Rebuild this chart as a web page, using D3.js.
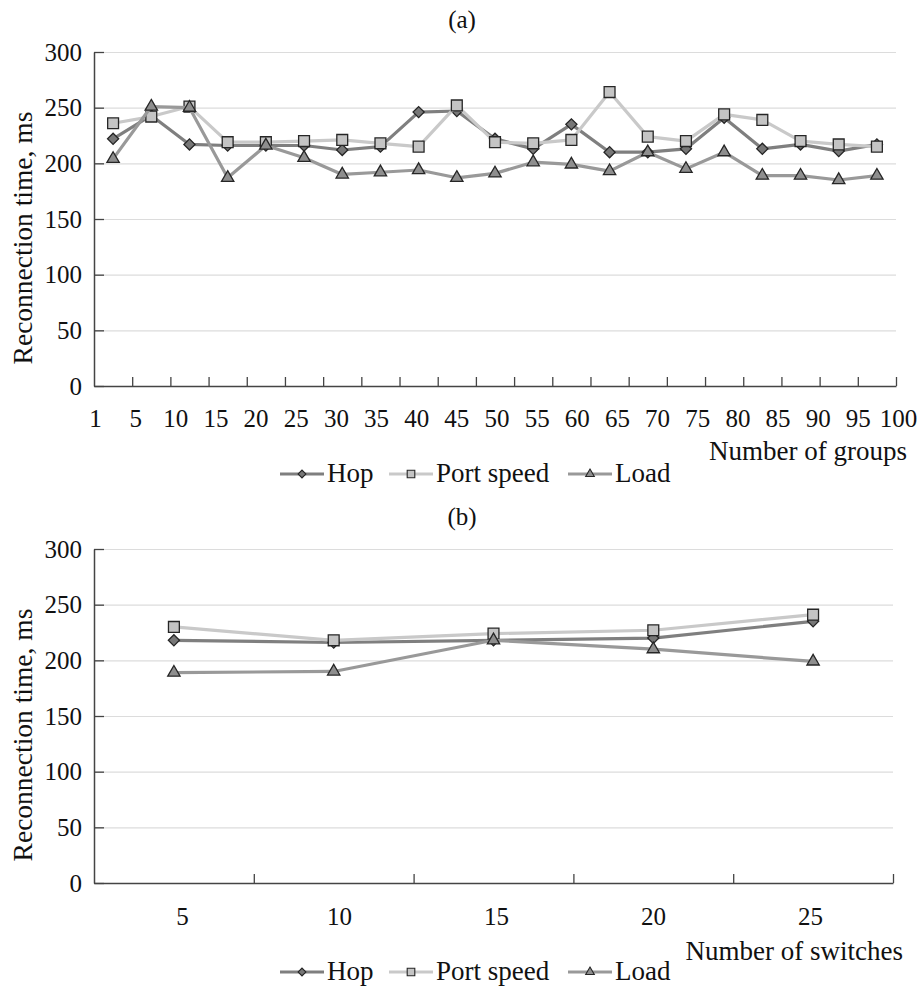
<!DOCTYPE html>
<html lang="en">
<head>
<meta charset="UTF-8">
<script src="https://d3js.org/d3.v7.min.js"></script>
</head>
<body style="margin:0">
<svg width="922" height="987" id="chart" font-family="Liberation Serif"></svg>
<script>
        // (a) number of groups
        const groupLabels = [1, 5, 10, 15, 20, 25, 30, 35, 40, 45, 50, 55, 60, 65, 70, 75, 80, 85, 90, 95, 100];
        const hopA  = [222, 243, 217, 216, 216, 216, 212, 215, 246, 247, 222, 213, 235, 210, 210, 213, 241, 213, 217, 211, 217];
        const portA = [236, 242, 251, 219, 219, 220, 221, 218, 215, 252, 219, 218, 221, 264, 224, 220, 244, 239, 220, 217, 215];
        const loadA = [204, 251, 250, 187, 216, 205, 190, 192, 194, 187, 191, 201, 199, 193, 210, 195, 210, 189, 189, 185, 189];

        // (b) number of switches
        const switchLabels = [5, 10, 15, 20, 25];
        const hopB  = [218, 216, 218, 220, 235];
        const portB = [230, 218, 224, 227, 241];
        const loadB = [189, 190, 218, 210, 199];

        const yTicks = [0, 50, 100, 150, 200, 250, 300];
        const seriesNames = ['Hop', 'Port speed', 'Load'];

        const styles = {
            'Hop':        { line: '#7f7f7f', fill: '#777777', shape: 'diamond' },
            'Port speed': { line: '#c9c9c9', fill: '#c4c4c4', shape: 'square' },
            'Load':       { line: '#999999', fill: '#8e8e8e', shape: 'triangle' }
        };

        const svg = d3.select('#chart');

        function marker(g, shape, small) {
            const k = small ? 0.7 : 1;
            if (shape === 'diamond') {
                return g.append('path').attr('d', d3.symbol(d3.symbolSquare, 62 * k * k)())
                    .attr('transform', 'rotate(45)');
            } else if (shape === 'square') {
                return g.append('path').attr('d', d3.symbol(d3.symbolSquare, 118 * k * k)());
            }
            return g.append('path').attr('d', d3.symbol(d3.symbolTriangle, 66 * k * k)());
        }

        function txt(sel, size) {
            return sel.attr('font-family', 'Liberation Serif')
                .style('font-family', '"Liberation Serif"')
                .attr('font-size', size).attr('fill', '#111');
        }

        function drawPanel(p) {
            const g = svg.append('g');

            const y = d3.scaleLinear().domain([0, 300]).range([p.bottom, p.top]);
            const x = d3.scaleBand().domain(p.labels).range([p.left, p.right]);
            const xb = d3.scaleLinear().domain([0, p.labels.length]).range([p.left, p.right]);
            const xl = d3.scalePoint().domain(p.labels).range(p.labelRange);

            // gridlines
            g.append('g')
                .attr('transform', `translate(${p.left},0)`)
                .call(d3.axisLeft(y).tickValues(yTicks.slice(1)).tickSize(-(p.right - p.left)).tickFormat(''))
                .call(a => a.select('.domain').remove())
                .call(a => a.selectAll('line').attr('stroke', '#dcdcdc').attr('stroke-width', 1.2));

            // y axis
            g.append('g')
                .attr('transform', `translate(${p.left},0)`)
                .call(d3.axisLeft(y).tickValues(yTicks).tickSizeInner(-10).tickSizeOuter(0).tickPadding(12))
                .attr('font-family', null)
                .call(a => a.select('.domain').attr('stroke', '#444').attr('stroke-width', 1.5))
                .call(a => a.selectAll('line').attr('stroke', '#444').attr('stroke-width', 1.3))
                .call(a => txt(a.selectAll('text'), 25));

            // x axis, ticks at category boundaries
            g.append('g')
                .attr('transform', `translate(0,${p.bottom})`)
                .call(d3.axisBottom(xb).tickValues(d3.range(1, p.labels.length + 1)).tickSizeInner(-9).tickSizeOuter(0).tickFormat(''))
                .call(a => a.select('.domain').attr('stroke', '#444').attr('stroke-width', 1.5))
                .call(a => a.selectAll('line').attr('stroke', '#444').attr('stroke-width', 1.3));

            // x labels
            g.append('g')
                .attr('transform', `translate(0,${p.bottom})`)
                .call(d3.axisBottom(xl).tickSize(0).tickPadding(0))
                .attr('font-family', null)
                .call(a => a.select('.domain').remove())
                .call(a => txt(a.selectAll('text'), 25).attr('y', p.labelY - p.bottom).attr('dy', 0));

            // panel title
            txt(g.append('text'), 25)
                .attr('x', 462).attr('y', p.titleY)
                .attr('text-anchor', 'middle')
                .text(p.title);

            // y title
            txt(g.append('text'), 27.5)
                .attr('transform', `translate(32,${p.yTitleY}) rotate(-90)`)
                .attr('text-anchor', 'middle')
                .text('Reconnection time, ms');

            // x title
            txt(g.append('text'), 27)
                .attr('x', p.xTitleX).attr('y', p.xTitleY)
                .attr('text-anchor', 'end')
                .text(p.xTitle);

            // series
            const cx = i => x(p.labels[i]) + x.bandwidth() / 2;
            const line = d3.line()
                .x((d, i) => cx(i))
                .y(d => y(d));

            p.series.forEach((vals, si) => {
                const st = styles[seriesNames[si]];
                g.append('path')
                    .datum(vals)
                    .attr('fill', 'none')
                    .attr('stroke', st.line)
                    .attr('stroke-width', 3.2)
                    .attr('stroke-linejoin', 'round')
                    .attr('d', line);

                vals.forEach((v, i) => {
                    const mg = g.append('g').attr('transform', `translate(${cx(i)},${y(v)})`);
                    marker(mg, st.shape, false)
                        .attr('fill', st.fill)
                        .attr('stroke', '#262626')
                        .attr('stroke-width', 1.3);
                });
            });

            // legend
            const legendX = [280, 389, 568];
            const lg = g.append('g').attr('transform', `translate(0,${p.legendY})`);
            seriesNames.forEach((name, i) => {
                const st = styles[name];
                const item = lg.append('g').attr('transform', `translate(${legendX[i]},0)`);
                item.append('line')
                    .attr('x1', 0).attr('x2', 44)
                    .attr('y1', -8).attr('y2', -8)
                    .attr('stroke', st.line)
                    .attr('stroke-width', 3.2);
                const mg = item.append('g').attr('transform', 'translate(22,-8)');
                marker(mg, st.shape, true)
                    .attr('fill', st.fill)
                    .attr('stroke', '#262626')
                    .attr('stroke-width', 1.1);
                txt(item.append('text'), 27)
                    .attr('x', 47).attr('y', 0)
                    .text(name);
            });
        }

        drawPanel({
            title: '(a)', titleY: 28,
            top: 52, bottom: 386, left: 94, right: 896,
            labels: groupLabels, labelRange: [95, 898], labelY: 427,
            xTitle: 'Number of groups', xTitleX: 907, xTitleY: 460,
            yTitleY: 238,
            legendY: 482,
            series: [hopA, portA, loadA]
        });

        drawPanel({
            title: '(b)', titleY: 525,
            top: 549, bottom: 883, left: 94, right: 893,
            labels: switchLabels, labelRange: [182, 810], labelY: 925,
            xTitle: 'Number of switches', xTitleX: 903, xTitleY: 960,
            yTitleY: 735,
            legendY: 980,
            series: [hopB, portB, loadB]
        });
</script>
</body>
</html>
